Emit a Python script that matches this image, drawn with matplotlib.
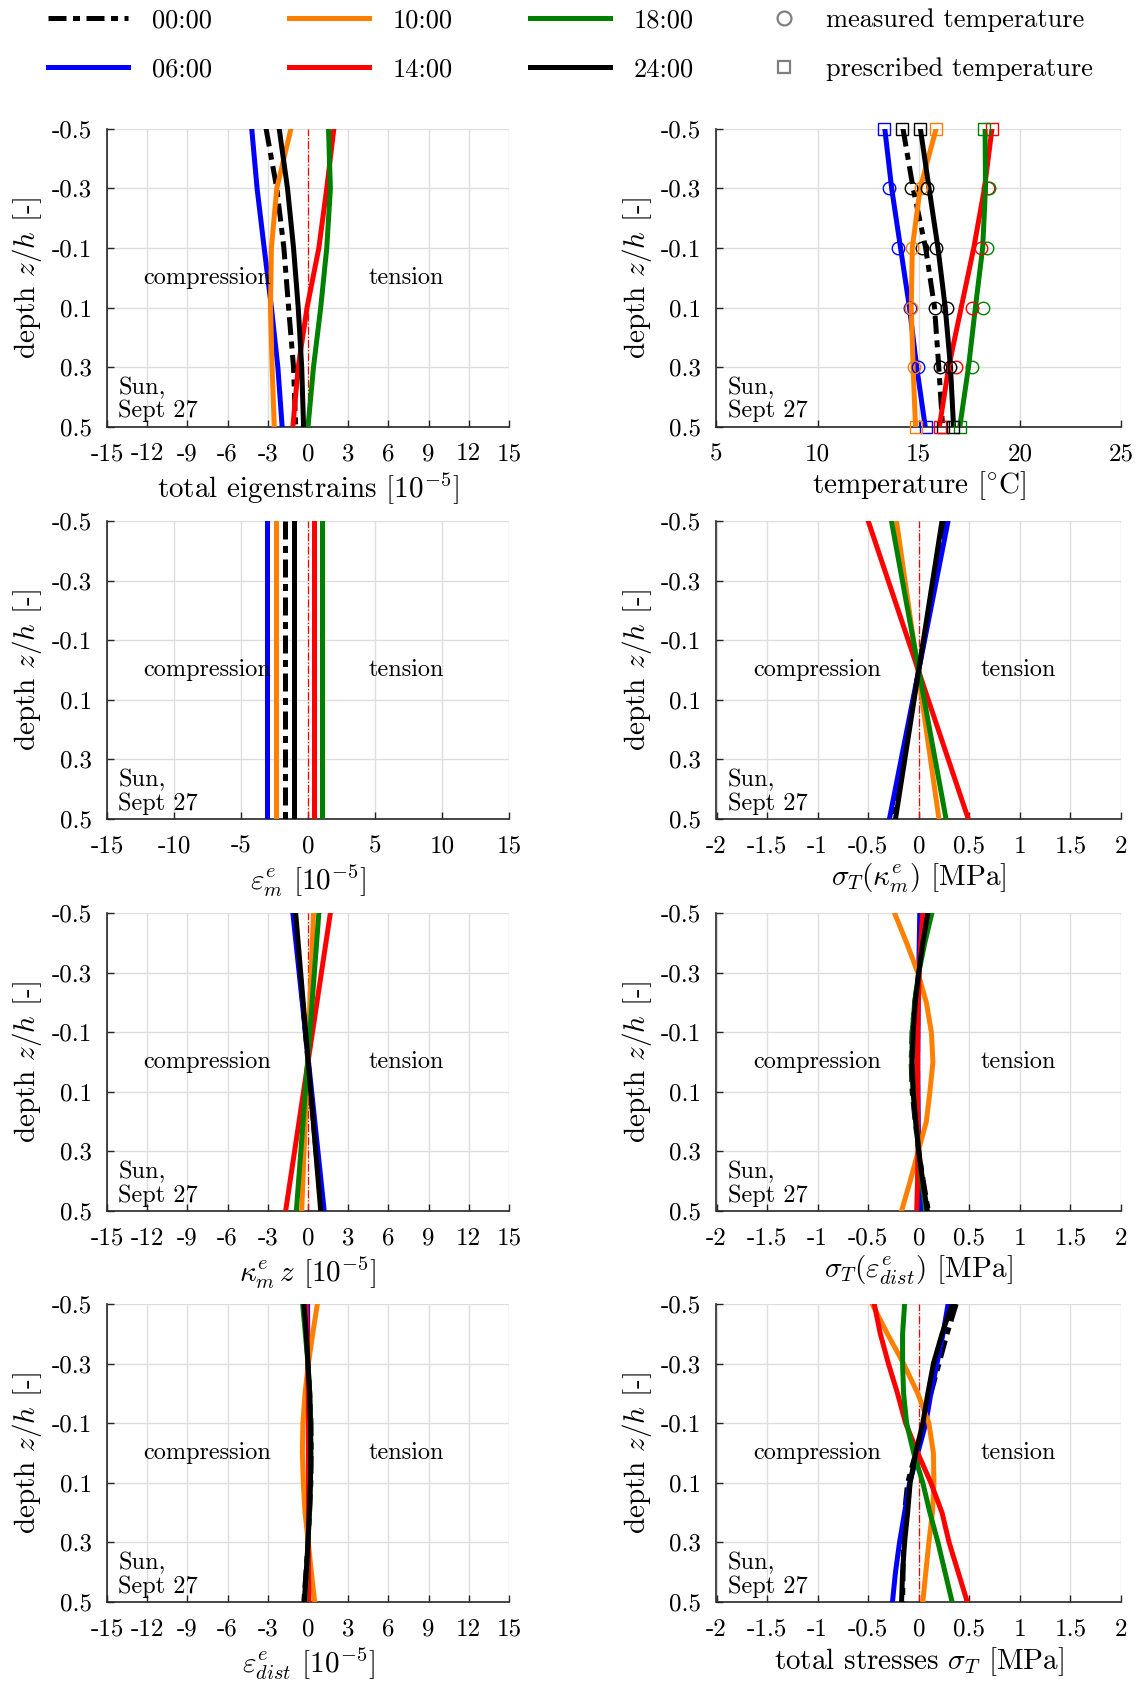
import numpy as np
import matplotlib.pyplot as plt
from matplotlib.lines import Line2D

plt.rcParams['font.family'] = 'cmr10'
plt.rcParams['mathtext.fontset'] = 'cm'
plt.rcParams['axes.unicode_minus'] = False

# time stamps of the profiles (Sun, Sept 27)
times = ['00:00', '06:00', '10:00', '14:00', '18:00', '24:00']
colors = ['k', '#0000ff', '#ff8000', '#ff0000', '#008000', 'k']
styles = [(0, (3.6, 1.3, 1.4, 1.3)), '-', '-', '-', '-', '-']

# normalised depth z/h
z6 = [-0.5, -0.3, -0.1, 0.1, 0.3, 0.5]
z11 = [-0.5, -0.4, -0.3, -0.2, -0.1, 0.0, 0.1, 0.2, 0.3, 0.4, 0.5]
z_ends = [-0.5, 0.5]
z_meas = [-0.3, -0.1, 0.1, 0.3]

# total eigenstrains [1e-5] at z6
eig_total = [
    [-3.13, -2.33, -1.80, -1.45, -1.08, -0.92],
    [-4.20, -3.80, -3.27, -2.73, -2.25, -1.93],
    [-1.27, -2.33, -2.73, -2.80, -2.68, -2.52],
    [1.93, 1.40, 0.81, -0.07, -0.73, -1.13],
    [1.53, 1.67, 1.40, 0.95, 0.41, 0.00],
    [-2.15, -1.53, -1.08, -0.73, -0.47, -0.33],
]

# temperature profiles [degC] at z6
temp_fit = [
    [14.22, 14.72, 15.34, 15.78, 15.99, 16.18],
    [13.32, 13.66, 14.10, 14.54, 14.90, 15.32],
    [15.86, 15.07, 14.68, 14.63, 14.72, 14.84],
    [18.62, 18.25, 17.72, 17.10, 16.48, 16.02],
    [18.28, 18.30, 18.16, 17.80, 17.46, 17.03],
    [15.08, 15.51, 15.95, 16.31, 16.57, 16.72],
]
# measured temperatures at z_meas
temp_meas = [
    [14.63, 15.16, 15.78, 16.04],
    [13.52, 13.96, 14.58, 14.95],
    [15.10, 14.65, 14.63, 14.75],
    [18.43, 18.07, 17.63, 16.84],
    [18.46, 18.39, 18.16, 17.63],
    [15.39, 15.87, 16.40, 16.54],
]
# prescribed surface temperatures at z_ends
temp_bc = [
    [14.19, 16.20],
    [13.30, 15.34],
    [15.87, 14.86],
    [18.64, 16.04],
    [18.25, 17.05],
    [15.07, 16.70],
]

# uniform part eps_m^e [1e-5]
eps_m = [-1.75, -3.05, -2.41, 0.47, 1.05, -1.08]

# linear part kappa_m^e z [1e-5] at z_ends
kappa_z = [
    [-1.00, 1.00],
    [-1.13, 1.21],
    [0.41, -0.47],
    [1.67, -1.67],
    [0.81, -0.87],
    [-0.92, 0.95],
]

# stresses from the linear part [MPa] at z_ends
sig_kappa = [
    [0.26, -0.26],
    [0.29, -0.29],
    [-0.22, 0.20],
    [-0.50, 0.49],
    [-0.27, 0.27],
    [0.23, -0.23],
]

# self-equilibrated part eps_dist^e [1e-5] at z11
eps_dist = [
    [-0.27, -0.12, 0.00, 0.13, 0.22, 0.24, 0.21, 0.12, 0.00, -0.15, -0.31],
    [-0.03, -0.02, 0.00, 0.02, 0.03, 0.03, 0.03, 0.02, 0.00, -0.03, -0.07],
    [0.70, 0.35, 0.03, -0.22, -0.38, -0.42, -0.35, -0.22, 0.02, 0.25, 0.50],
    [-0.13, -0.06, -0.02, 0.02, 0.03, 0.04, 0.04, 0.03, 0.03, 0.04, 0.07],
    [-0.40, -0.20, 0.00, 0.13, 0.20, 0.22, 0.18, 0.10, 0.00, -0.10, -0.22],
    [-0.30, -0.13, 0.00, 0.12, 0.18, 0.20, 0.18, 0.10, 0.00, -0.13, -0.28],
]

# stresses from the self-equilibrated part [MPa] at z11
sig_dist = [
    [0.08, 0.035, 0.00, -0.04, -0.065, -0.075, -0.065, -0.035, 0.00, 0.045, 0.095],
    [0.01, 0.005, 0.00, -0.005, -0.008, -0.01, -0.008, -0.005, 0.00, 0.01, 0.02],
    [-0.24, -0.12, -0.01, 0.075, 0.125, 0.14, 0.11, 0.075, -0.005, -0.085, -0.17],
    [0.04, 0.02, 0.005, -0.005, -0.01, -0.012, -0.012, -0.01, -0.008, -0.012, -0.02],
    [0.13, 0.06, 0.00, -0.04, -0.065, -0.07, -0.055, -0.03, 0.00, 0.03, 0.07],
    [0.09, 0.04, 0.00, -0.035, -0.055, -0.065, -0.055, -0.03, 0.00, 0.04, 0.085],
]

# total stresses [MPa] at z11
sig_total = [
    [0.37, 0.28, 0.20, 0.12, 0.05, -0.03, -0.11, -0.14, -0.15, -0.155, -0.16],
    [0.29, 0.24, 0.18, 0.12, 0.07, -0.01, -0.09, -0.14, -0.19, -0.23, -0.26],
    [-0.46, -0.31, -0.15, -0.01, 0.10, 0.145, 0.15, 0.135, 0.10, 0.07, 0.04],
    [-0.44, -0.38, -0.30, -0.21, -0.13, -0.01, 0.12, 0.23, 0.30, 0.39, 0.48],
    [-0.14, -0.16, -0.16, -0.15, -0.12, -0.05, 0.04, 0.11, 0.19, 0.26, 0.33],
    [0.33, 0.23, 0.145, 0.09, 0.04, -0.03, -0.085, -0.11, -0.14, -0.16, -0.17],
]

strain_ticks = np.arange(-15, 16, 3)
strain_ticks5 = np.arange(-15, 16, 5)
stress_ticks = np.arange(-2, 2.01, 0.5)
temp_ticks = np.arange(5, 26, 5)
depth_ticks = [-0.5, -0.3, -0.1, 0.1, 0.3, 0.5]

LW = 3.6
TICK_FS = 18
LABEL_FS = 21
NOTE_FS = 17.5

W, H = 1137, 1682
fig = plt.figure(figsize=(W / 100, H / 100), dpi=100)

col_left = [107, 716.5]
col_width = [402, 404.5]
row_top = [128.7, 521, 913, 1304]
ax_h = 298


def make_axes(row, col):
    l = col_left[col] / W
    b = 1 - (row_top[row] + ax_h) / H
    return fig.add_axes([l, b, col_width[col] / W, ax_h / H])


def style(ax, xticks, xlabel, notes=True, zero_line=True):
    ax.set_xlim(xticks[0], xticks[-1])
    ax.set_ylim(0.5, -0.5)
    ax.set_xticks(xticks, ['%g' % t for t in xticks])
    ax.set_yticks(depth_ticks, ['%g' % t for t in depth_ticks])
    ax.grid(True, color='#dedede', lw=1.0)
    ax.set_axisbelow(True)
    for s in ['top', 'right']:
        ax.spines[s].set_visible(False)
    for s in ['left', 'bottom']:
        ax.spines[s].set_color('#262626')
        ax.spines[s].set_linewidth(1.2)
    ax.tick_params(direction='in', length=5, width=1.0, color='#262626',
                   labelsize=TICK_FS)
    ax.tick_params(axis='x', pad=12)
    ax.tick_params(axis='y', pad=11)
    ax.set_xlabel(xlabel, fontsize=LABEL_FS, labelpad=3)
    ax.set_ylabel(r'depth $z/h$ [-]', fontsize=LABEL_FS, labelpad=5)
    if zero_line:
        ax.axvline(0, color='r', lw=0.9, ls='-.', zorder=1.5)
    if notes:
        ax.text(0.25, 0.5, 'compression', transform=ax.transAxes,
                ha='center', va='center', fontsize=NOTE_FS)
        ax.text(0.745, 0.5, 'tension', transform=ax.transAxes,
                ha='center', va='center', fontsize=NOTE_FS)
    ax.text(0.028, 0.015, 'Sun,\nSept 27', transform=ax.transAxes,
            ha='left', va='bottom', fontsize=NOTE_FS, linespacing=1.05)


def profiles(ax, depth, series):
    for vals, c, ls in zip(series, colors, styles):
        ax.plot(vals, depth, color=c, ls=ls, lw=LW, zorder=3)


# total eigenstrains
ax = make_axes(0, 0)
profiles(ax, z6, eig_total)
style(ax, strain_ticks, r'total eigenstrains [$10^{-5}$]')

# temperature
ax = make_axes(0, 1)
profiles(ax, z6, temp_fit)
for meas, bc, c in zip(temp_meas, temp_bc, colors):
    ax.plot(meas, z_meas, ls='none', marker='o', ms=9, mfc='none', mec=c,
            mew=1.0, zorder=4, clip_on=False)
    ax.plot(bc, z_ends, ls='none', marker='s', ms=8.5, mfc='none', mec=c,
            mew=1.0, zorder=4, clip_on=False)
style(ax, temp_ticks, r'temperature [$^{\circ}$C]', notes=False, zero_line=False)

# uniform part
ax = make_axes(1, 0)
profiles(ax, z_ends, [[v, v] for v in eps_m])
style(ax, strain_ticks5, r'$\varepsilon_m^e$ [$10^{-5}$]')

# stresses of the linear part
ax = make_axes(1, 1)
profiles(ax, z_ends, sig_kappa)
style(ax, stress_ticks, r'$\sigma_T(\kappa_m^e)$ [MPa]')

# linear part
ax = make_axes(2, 0)
profiles(ax, z_ends, kappa_z)
style(ax, strain_ticks, r'$\kappa_m^e\,z$ [$10^{-5}$]')

# stresses of the self-equilibrated part
ax = make_axes(2, 1)
profiles(ax, z11, sig_dist)
style(ax, stress_ticks, r'$\sigma_T(\varepsilon_{dist}^e)$ [MPa]')

# self-equilibrated part
ax = make_axes(3, 0)
profiles(ax, z11, eps_dist)
style(ax, strain_ticks, r'$\varepsilon_{dist}^e$ [$10^{-5}$]')

# total stresses
ax = make_axes(3, 1)
profiles(ax, z11, sig_total)
style(ax, stress_ticks, r'total stresses $\sigma_T$ [MPa]')

# legends
line_handles = [Line2D([], [], color=c, ls=ls, lw=LW) for c, ls in zip(colors, styles)]
fig.legend(line_handles, times, loc='center left', ncol=3,
           bbox_to_anchor=(48 / W, 1 - 45 / H), frameon=False,
           fontsize=19, handlelength=3.05, handletextpad=0.9,
           columnspacing=2.9, labelspacing=0.95, borderpad=0, borderaxespad=0)
marker_handles = [
    Line2D([], [], ls='none', marker='o', ms=10, mfc='none', mec='#808080', mew=1.6),
    Line2D([], [], ls='none', marker='s', ms=9, mfc='none', mec='#808080', mew=1.6),
]
fig.legend(marker_handles, ['measured temperature', 'prescribed temperature'],
           loc='center left', bbox_to_anchor=(771 / W, 1 - 45 / H),
           frameon=False, fontsize=19, handlelength=1.0, handletextpad=1.1,
           labelspacing=0.95, borderpad=0, borderaxespad=0)

fig.savefig('out.png', dpi=100)
